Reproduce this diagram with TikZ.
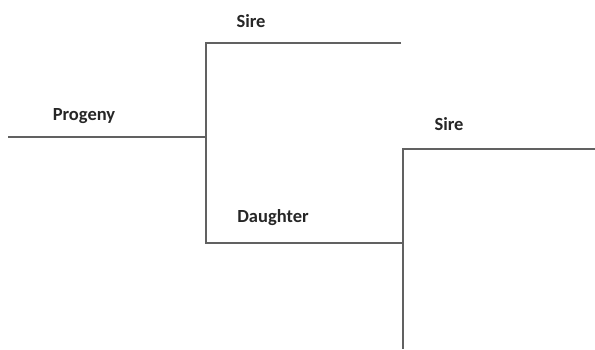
\documentclass[tikz,border=0pt]{standalone}
\usepackage{fontspec}
\setmainfont{Carlito}
\begin{document}
\begin{tikzpicture}[x=1pt,y=-1pt,
  lbl/.style={font=\bfseries\fontsize{18.5}{22}\selectfont, text=black!85, inner sep=0pt},
  ln/.style={draw=black!62, line width=1.8pt}]
\useasboundingbox (0,0) rectangle (595,349);
% junction coordinates
\coordinate (pstart) at (8,137);
\coordinate (pend) at (206,137);
\coordinate (stop) at (206,43);
\coordinate (sireend) at (401,43);
\coordinate (dbot) at (206,243);
\coordinate (dend) at (403,243);
\coordinate (s2top) at (403,149);
\coordinate (s2end) at (595,149);
\coordinate (s2bot) at (403,349);
% lines
\draw[ln] (pstart) -- (pend);
\draw[ln] (sireend) -- (stop) -- (dbot) -- (dend);
\draw[ln] (s2end) -- (s2top) -- (s2bot);
% labels
\node[lbl] (sire1) at (251,21) {Sire};
\node[lbl] (progeny) at (84,116) {Progeny};
\node[lbl] (sire2) at (449,124) {Sire};
\node[lbl] (daughter) at (273,218) {Daughter};
\end{tikzpicture}
\end{document}
